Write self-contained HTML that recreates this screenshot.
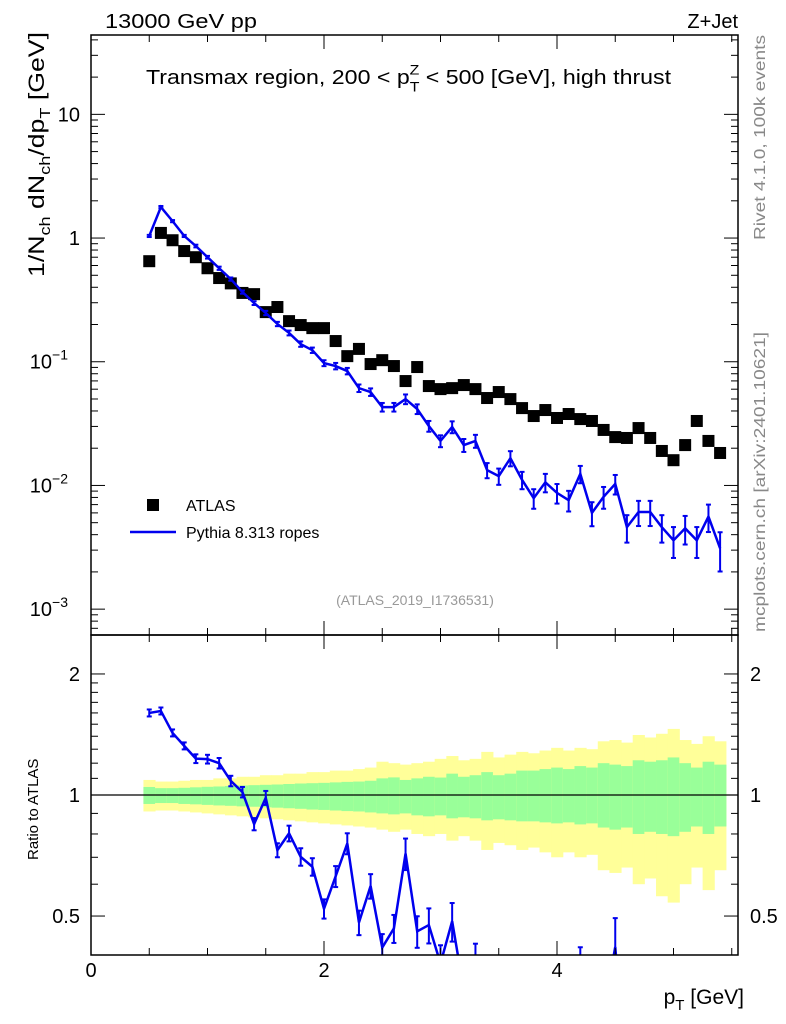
<!DOCTYPE html>
<html><head><meta charset="utf-8"><style>
html,body{margin:0;padding:0;background:#fff;width:786px;height:1024px;overflow:hidden;}
svg{display:block;font-family:"Liberation Sans",sans-serif;}
</style></head><body>
<svg id="chart" width="786" height="1024" viewBox="0 0 786 1024">
<g id="bands"></g>
<g id="marks"></g>
<g id="axes"></g>
<text x="105" y="28" font-size="20" textLength="152" lengthAdjust="spacingAndGlyphs">13000 GeV pp</text>
<text x="738" y="28" font-size="20" text-anchor="end">Z+Jet</text>
<g transform="translate(146,84) scale(1.22,1.05)">
<text x="0" y="0" font-size="19">Transmax region, 200 &lt; p<tspan font-size="13" dy="7">T</tspan><tspan font-size="13" dx="-8" dy="-16">Z</tspan><tspan dy="9"> &lt; 500 [GeV], high thrust</tspan></text>
</g>
<text transform="translate(44,277) rotate(-90)" font-size="22" textLength="245" lengthAdjust="spacingAndGlyphs">1/N<tspan font-size="15" dy="6">ch</tspan><tspan dy="-6"> dN</tspan><tspan font-size="15" dy="6">ch</tspan><tspan dy="-6">/dp</tspan><tspan font-size="15" dy="6">T</tspan><tspan dy="-6"> [GeV]</tspan></text>
<text transform="translate(38,860) rotate(-90)" font-size="15">Ratio to ATLAS</text>
<text x="744" y="1004" font-size="21" text-anchor="end">p<tspan font-size="15" dy="6">T</tspan><tspan dy="-6"> [GeV]</tspan></text>
<text transform="translate(765,240) rotate(-90)" font-size="16" textLength="205" lengthAdjust="spacingAndGlyphs" fill="#888">Rivet 4.1.0,  100k events</text>
<text transform="translate(765,632) rotate(-90)" font-size="16" textLength="300" lengthAdjust="spacingAndGlyphs" fill="#888">mcplots.cern.ch [arXiv:2401.10621]</text>
<text x="415" y="605" font-size="14" fill="#999" text-anchor="middle">(ATLAS_2019_I1736531)</text>
<rect x="147" y="499" width="12" height="12" fill="#000"/>
<text x="186" y="511" font-size="16">ATLAS</text>
<line x1="130" y1="532" x2="176" y2="532" stroke="#0000ee" stroke-width="2.5"/>
<text x="186" y="538" font-size="16">Pythia 8.313 ropes</text>
</svg>
<script>
const categories=[0.5,0.6,0.7,0.8,0.9,1.0,1.1,1.2,1.3,1.4,1.5,1.6,1.7,1.8,1.9,2.0,2.1,2.2,2.3,2.4,2.5,2.6,2.7,2.8,2.9,3.0,3.1,3.2,3.3,3.4,3.5,3.6,3.7,3.8,3.9,4.0,4.1,4.2,4.3,4.4,4.5,4.6,4.7,4.8,4.9,5.0,5.1,5.2,5.3,5.4];
const atlasValues=[0.65,1.10,0.96,0.785,0.70,0.57,0.475,0.43,0.36,0.352,0.252,0.277,0.213,0.198,0.187,0.187,0.147,0.111,0.127,0.0958,0.103,0.0923,0.0698,0.0906,0.0636,0.0601,0.0612,0.0648,0.0601,0.0509,0.0569,0.0499,0.0422,0.0364,0.0407,0.0351,0.0378,0.0344,0.0332,0.0281,0.0246,0.0242,0.0291,0.0242,0.019,0.016,0.0212,0.0332,0.0229,0.0183];
const pythiaValues=[1.04,1.78,1.37,1.04,0.862,0.70,0.57,0.466,0.366,0.298,0.248,0.202,0.171,0.139,0.124,0.0975,0.0923,0.0841,0.0612,0.0569,0.043,0.043,0.0499,0.0415,0.0302,0.0229,0.0297,0.0212,0.0229,0.0133,0.0119,0.0166,0.0111,0.0079,0.0106,0.0087,0.0076,0.0124,0.006,0.0081,0.0103,0.0046,0.0061,0.0061,0.0046,0.0036,0.0045,0.0036,0.0056,0.0031];
const pythiaRelErr=[0.02,0.02,0.02,0.02,0.025,0.025,0.03,0.03,0.03,0.035,0.04,0.04,0.045,0.05,0.05,0.055,0.06,0.06,0.07,0.07,0.08,0.08,0.09,0.09,0.1,0.11,0.11,0.12,0.12,0.14,0.15,0.14,0.16,0.18,0.17,0.18,0.19,0.16,0.22,0.2,0.18,0.25,0.23,0.23,0.25,0.28,0.26,0.28,0.25,0.35];
const yellowUp=[1.09,1.08,1.08,1.085,1.09,1.09,1.10,1.10,1.11,1.11,1.12,1.12,1.13,1.13,1.14,1.14,1.15,1.15,1.16,1.17,1.21,1.20,1.19,1.20,1.21,1.23,1.25,1.22,1.23,1.28,1.24,1.26,1.28,1.27,1.29,1.31,1.29,1.31,1.30,1.36,1.37,1.35,1.41,1.39,1.42,1.46,1.37,1.34,1.40,1.36];
const greenUp=[1.047,1.04,1.04,1.042,1.045,1.048,1.05,1.053,1.056,1.058,1.06,1.062,1.065,1.068,1.07,1.072,1.075,1.078,1.08,1.085,1.10,1.106,1.09,1.10,1.11,1.105,1.13,1.11,1.12,1.14,1.12,1.13,1.15,1.15,1.16,1.17,1.16,1.18,1.17,1.20,1.19,1.18,1.22,1.21,1.22,1.24,1.20,1.17,1.21,1.19];
const greenDn=[0.95,0.955,0.955,0.95,0.948,0.945,0.942,0.94,0.937,0.935,0.932,0.93,0.927,0.924,0.92,0.918,0.915,0.912,0.91,0.905,0.90,0.895,0.90,0.89,0.885,0.89,0.875,0.88,0.875,0.865,0.87,0.865,0.86,0.86,0.855,0.85,0.855,0.845,0.85,0.83,0.82,0.83,0.80,0.81,0.80,0.79,0.81,0.835,0.80,0.835];
const yellowDn=[0.91,0.915,0.915,0.91,0.905,0.90,0.895,0.89,0.885,0.88,0.875,0.87,0.865,0.86,0.855,0.85,0.845,0.84,0.835,0.83,0.82,0.81,0.82,0.80,0.79,0.80,0.77,0.79,0.77,0.73,0.76,0.75,0.73,0.74,0.72,0.70,0.72,0.70,0.71,0.65,0.64,0.66,0.60,0.62,0.56,0.54,0.60,0.66,0.58,0.65];
const xTicks=[0,2,4];
const mainTickLabels=[[10,"10",""],[1,"1",""],[0.1,"10","−1"],[0.01,"10","−2"],[0.001,"10","−3"]];
const ratioTickLabels=[[2,"2"],[1,"1"],[0.5,"0.5"]];

const NS="http://www.w3.org/2000/svg";
const L=91,R=738,MT=35,MB=635,RT=635,RB=955;
const XMIN=0,XMAX=(R-L)/116.5;
const MLOG0=Math.log10(6.18e-4),MLOG1=Math.log10(43.8);
const RLOG0=Math.log10(0.4),RLOG1=Math.log10(2.5);
function sx(v){return L+(v-XMIN)/(XMAX-XMIN)*(R-L);}
function sy(v){return MB-(Math.log10(v)-MLOG0)/(MLOG1-MLOG0)*(MB-MT);}
function ry(v){return RB-(Math.log10(v)-RLOG0)/(RLOG1-RLOG0)*(RB-RT);}
function mk(tag,attrs,parent){const e=document.createElementNS(NS,tag);for(const k in attrs)e.setAttribute(k,attrs[k]);parent.appendChild(e);return e;}
const bands=document.getElementById('bands'),marks=document.getElementById('marks'),axes=document.getElementById('axes');

categories.forEach((c,i)=>{
  const x0=sx(c-0.05),x1=sx(c+0.05);
  let r=mk('rect',{x:x0,y:ry(yellowUp[i]),width:x1-x0+0.5,height:ry(yellowDn[i])-ry(yellowUp[i]),fill:'#ffff99'},bands);
  
  
  r=mk('rect',{x:x0,y:ry(greenUp[i]),width:x1-x0+0.5,height:ry(greenDn[i])-ry(greenUp[i]),fill:'#99ff99'},bands);
  
  
});
let one=mk('line',{x1:L,x2:R,y1:ry(1),y2:ry(1),stroke:'#000','stroke-width':1.2},bands);



const defs=mk('defs',{},marks);
const cp=mk('clipPath',{id:'rclip'},defs);mk('rect',{x:L,y:RT,width:R-L,height:RB-RT},cp);
const cp2=mk('clipPath',{id:'mclip'},defs);mk('rect',{x:L,y:MT,width:R-L,height:MB-MT},cp2);

categories.forEach((c,i)=>{
  const s=mk('rect',{x:sx(c)-6,y:sy(atlasValues[i])-6,width:12,height:12,fill:'#000'},marks);
  
  
});
const gM=mk('g',{'clip-path':'url(#mclip)'},marks);
let pts=categories.map((c,i)=>sx(c)+','+sy(pythiaValues[i])).join(' ');
let pl=mk('polyline',{points:pts,fill:'none',stroke:'#0000ee','stroke-width':2.5},gM);


categories.forEach((c,i)=>{
  const v=pythiaValues[i],e=pythiaRelErr[i],x=sx(c);
  const y1=sy(v*(1+e)),y2=sy(Math.max(v*(1-e),1e-6));
  const g=mk('g',{stroke:'#0000ee','stroke-width':2},gM);
  
  
  mk('line',{x1:x,x2:x,y1:y1,y2:y2},g);
  mk('line',{x1:x-2.5,x2:x+2.5,y1:y1,y2:y1},g);
  mk('line',{x1:x-2.5,x2:x+2.5,y1:y2,y2:y2},g);
});
const gR=mk('g',{'clip-path':'url(#rclip)'},marks);
const ratios=categories.map((c,i)=>pythiaValues[i]/atlasValues[i]);
pts=categories.map((c,i)=>sx(c)+','+ry(ratios[i])).join(' ');
pl=mk('polyline',{points:pts,fill:'none',stroke:'#0000ee','stroke-width':2.5},gR);


categories.forEach((c,i)=>{
  const v=ratios[i],e=pythiaRelErr[i],x=sx(c);
  const y1=ry(v*(1+e)),y2=ry(v*(1-e));
  const g=mk('g',{stroke:'#0000ee','stroke-width':2},gR);
  
  
  mk('line',{x1:x,x2:x,y1:y1,y2:y2},g);
  mk('line',{x1:x-2.5,x2:x+2.5,y1:y1,y2:y1},g);
  mk('line',{x1:x-2.5,x2:x+2.5,y1:y2,y2:y2},g);
});

[[MT,MB],[RT,RB]].forEach(([t,b],k)=>{
  const f=mk('rect',{x:L,y:t,width:R-L,height:b-t,fill:'none',stroke:'#000','stroke-width':1.5},axes);
  
  
  for(let v=0;v<=XMAX;v+=0.5){
    const major=Math.abs(v-Math.round(v/2)*2)<1e-6, len=major?14:7, x=sx(v);
    mk('line',{x1:x,x2:x,y1:b,y2:b-len,stroke:'#000'},axes);
    mk('line',{x1:x,x2:x,y1:t,y2:t+len,stroke:'#000'},axes);
  }
});
for(let d=-4;d<=1;d++){for(let m=1;m<=9;m++){
  const v=m*Math.pow(10,d);if(v<6.18e-4||v>43.8)continue;
  const y=sy(v),len=m===1?14:7;
  mk('line',{x1:L,x2:L+len,y1:y,y2:y,stroke:'#000'},axes);
  mk('line',{x1:R,x2:R-len,y1:y,y2:y,stroke:'#000'},axes);
}}
mainTickLabels.forEach(([v,b,e])=>{
  const t=mk('text',{x:e?68:80,y:sy(v)+7,'font-size':20,'text-anchor':'end'},axes);
  
  
  t.textContent=b;
  if(e){const s=mk('tspan',{'font-size':14,dy:-9},t);s.textContent=e;}
});
[0.4,0.5,0.6,0.7,0.8,0.9,1,1.1,1.2,1.3,1.4,1.5,1.6,1.7,1.8,1.9,2,2.5].forEach(v=>{
  const y=ry(v),len=(v===0.5||v===1||v===2)?14:7;
  mk('line',{x1:L,x2:L+len,y1:y,y2:y,stroke:'#000'},axes);
  mk('line',{x1:R,x2:R-len,y1:y,y2:y,stroke:'#000'},axes);
});
ratioTickLabels.forEach(([v,s])=>{
  let t=mk('text',{x:80,y:ry(v)+7,'font-size':20,'text-anchor':'end'},axes);
  
  
  t.textContent=s;
  t=mk('text',{x:750,y:ry(v)+7,'font-size':20},axes);
  
  
  t.textContent=s;
});
xTicks.forEach(v=>{
  const t=mk('text',{x:sx(v),y:977,'font-size':20,'text-anchor':'middle'},axes);
  
  
  t.textContent=String(v);
});
</script>
</body></html>
